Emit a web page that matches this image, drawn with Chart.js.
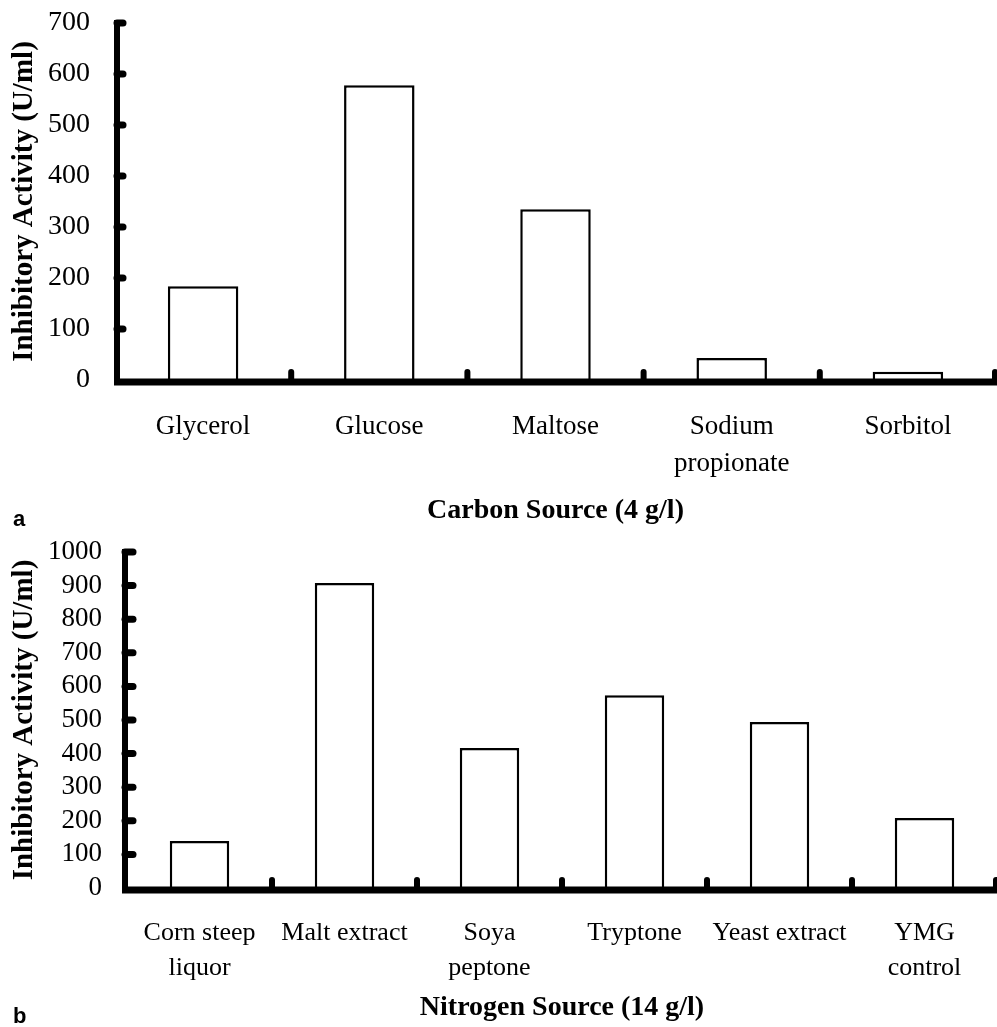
<!DOCTYPE html>
<html><head><meta charset="utf-8">
<script src="https://cdn.jsdelivr.net/npm/chart.js@4"></script>
<style>
html,body{margin:0;padding:0;background:#fff;}
body{width:997px;height:1027px;position:relative;overflow:hidden;}
.wrap{position:absolute;left:0;width:997px;}
.panel{position:absolute;left:13px;font:bold 22px "Liberation Sans",Arial,sans-serif;line-height:22px;color:#000;}
</style></head><body>
<div class="wrap" style="top:0;height:530px"><canvas id="c1" width="997" height="530"></canvas></div>
<div class="wrap" style="top:530px;height:497px"><canvas id="c2" width="997" height="497"></canvas></div>
<div class="panel" style="top:508px">a</div>
<div class="panel" style="top:1005px">b</div>
<script>
// ---- Data ----
const carbonLabels = ["Glycerol", "Glucose", "Maltose", ["Sodium", "propionate"], "Sorbitol"];
const carbonValues = [184, 578, 335, 43, 16];
const carbonTicks = [0, 100, 200, 300, 400, 500, 600, 700];
const carbonTitle = "Carbon Source (4 g/l)";

const nitrogenLabels = [["Corn steep", "liquor"], "Malt extract", ["Soya", "peptone"], "Tryptone", "Yeast extract", ["YMG", "control"]];
const nitrogenValues = [140, 908, 417, 574, 494, 208];
const nitrogenTicks = [0, 100, 200, 300, 400, 500, 600, 700, 800, 900, 1000];
const nitrogenTitle = "Nitrogen Source (14 g/l)";

const yTitle = "Inhibitory Activity (U/ml)";

const SERIF = '"Liberation Serif","Times New Roman",serif';
Chart.defaults.devicePixelRatio = 1;

const axisPlugin = {
  id: 'axisDraw',
  afterDatasetsDraw(chart, args, o) {
    const {ctx, chartArea: a, scales: {x, y}} = chart;
    const y0 = y.getPixelForValue(0);
    const ax = a.left + o.axisOffset;
    ctx.save();
    ctx.strokeStyle = '#000';
    // y ticks (pointing inward)
    ctx.lineCap = 'round';
    ctx.lineWidth = 7;
    y.ticks.forEach(t => {
      if (t.value === 0) return;
      const py = y.getPixelForValue(t.value);
      ctx.beginPath(); ctx.moveTo(ax, py); ctx.lineTo(ax + o.tickLen, py); ctx.stroke();
    });
    // category separators
    const n = x.ticks.length;
    ctx.lineWidth = 6;
    for (let i = 0; i < n; i++) {
      const bx = i < n - 1 ? (x.getPixelForValue(i) + x.getPixelForValue(i + 1)) / 2 : a.right - 1;
      ctx.beginPath(); ctx.moveTo(bx, y0 + 2); ctx.lineTo(bx, y0 - 8); ctx.stroke();
    }
    // y axis line
    ctx.lineCap = 'butt';
    ctx.lineWidth = 6;
    const topPx = y.getPixelForValue(y.max);
    ctx.beginPath(); ctx.moveTo(ax, topPx - 3); ctx.lineTo(ax, y0 + 5); ctx.stroke();
    // x axis line
    ctx.lineWidth = 7;
    ctx.beginPath(); ctx.moveTo(ax - 3, y0 + 2); ctx.lineTo(a.right + 2, y0 + 2); ctx.stroke();
    ctx.restore();
  }
};

function makeChart(id, labels, values, ticksArr, xTitle, cfg) {
  return new Chart(document.getElementById(id), {
    type: 'bar',
    data: {
      labels: labels,
      datasets: [{
        data: values,
        backgroundColor: '#ffffff',
        borderColor: '#000000',
        borderWidth: 2.5,
        borderSkipped: 'bottom',
        barPercentage: cfg.barPct,
        categoryPercentage: 1
      }]
    },
    options: {
      responsive: false,
      animation: false,
      events: [],
      layout: {padding: {top: cfg.padTop, right: cfg.padRight, bottom: 0, left: 0}},
      plugins: {
        legend: {display: false},
        tooltip: {enabled: false},
        axisDraw: {axisOffset: cfg.axisOffset, tickLen: cfg.tickLen}
      },
      scales: {
        x: {
          type: 'category',
          offset: true,
          grid: {display: false, drawTicks: false},
          border: {display: false},
          ticks: {
            color: '#000', autoSkip: false, maxRotation: 0, minRotation: 0,
            padding: cfg.xPad,
            font: {family: SERIF, size: cfg.fs, lineHeight: cfg.lh}
          },
          title: {
            display: true, text: xTitle, color: '#000',
            font: {family: SERIF, size: 28, weight: 'bold', lineHeight: 1.2},
            padding: {top: 0, bottom: cfg.xTitlePad}
          },
          afterFit(s) { s.height = cfg.xHeight; }
        },
        y: {
          min: ticksArr[0],
          max: ticksArr[ticksArr.length - 1],
          afterBuildTicks(s) { s.ticks = ticksArr.map(v => ({value: v})); },
          grid: {display: true, drawOnChartArea: false, drawTicks: true, tickLength: 25, color: 'rgba(0,0,0,0)'},
          border: {display: false},
          ticks: {
            color: '#000', padding: 0, autoSkip: false,
            callback: v => String(v),
            font: {family: SERIF, size: cfg.yfs, lineHeight: 1.0}
          },
          title: {
            display: true, text: yTitle, color: '#000',
            font: {family: SERIF, size: 29, weight: 'bold', lineHeight: 1.2},
            padding: {top: 7, bottom: 0}
          },
          afterFit(s) { s.width = cfg.yWidth; }
        }
      }
    },
    plugins: [axisPlugin]
  });
}

makeChart('c1', carbonLabels, carbonValues, carbonTicks, carbonTitle, {
  barPct: 0.40, padTop: 23, padRight: 1, axisOffset: 2, tickLen: 6,
  xPad: 28, fs: 27, yfs: 28, lh: 1.37, xTitlePad: 2, xHeight: 150, yWidth: 115
});
makeChart('c2', nitrogenLabels, nitrogenValues, nitrogenTicks, nitrogenTitle, {
  barPct: 0.41, padTop: 22, padRight: 0, axisOffset: -2, tickLen: 8,
  xPad: 28, fs: 26, yfs: 27, lh: 1.35, xTitlePad: 2, xHeight: 139, yWidth: 127
});
</script>
</body></html>
